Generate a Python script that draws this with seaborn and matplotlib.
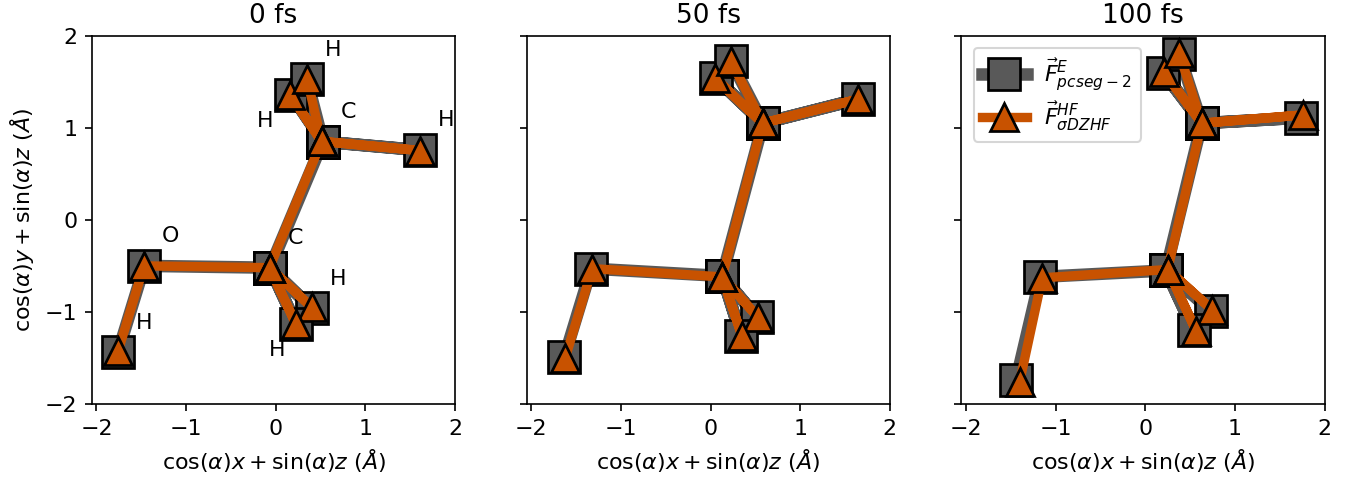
import numpy as np
import pandas as pd
import matplotlib
matplotlib.use("Agg")
import matplotlib.pyplot as plt
import seaborn as sns

titles = ['0 fs', '50 fs', '100 fs']
atoms = ['H1', 'O', 'C1', 'H2', 'H3', 'C2', 'H4', 'H5', 'H6']
# bonds walked as one path, atom index order
path = [0, 1, 2, 3, 2, 4, 2, 5, 6, 5, 7, 5, 8]

# atom coordinates per frame (in Angstrom)
ref_x_0 = [-1.76, -1.465, -0.065, 0.40, 0.225, 0.525, 1.61, 0.17, 0.344]
ref_y_0 = [-1.435, -0.50, -0.52, -0.96, -1.135, 0.85, 0.757, 1.36, 1.535]
hf_x_0 = [-1.76, -1.47, -0.07, 0.40, 0.225, 0.51, 1.61, 0.16, 0.348]
hf_y_0 = [-1.43, -0.50, -0.52, -0.95, -1.135, 0.853, 0.753, 1.36, 1.535]

ref_x_50 = [-1.63, -1.33, 0.13, 0.52, 0.34, 0.586, 1.64, 0.056, 0.225]
ref_y_50 = [-1.49, -0.53, -0.61, -1.06, -1.26, 1.05, 1.31, 1.54, 1.73]
hf_x_50 = [-1.62, -1.32, 0.13, 0.53, 0.35, 0.58, 1.64, 0.05, 0.227]
hf_y_50 = [-1.50, -0.53, -0.62, -1.06, -1.26, 1.05, 1.31, 1.54, 1.73]

ref_x_100 = [-1.44, -1.17, 0.23, 0.73, 0.54, 0.63, 1.74, 0.20, 0.38]
ref_y_100 = [-1.74, -0.62, -0.55, -0.99, -1.20, 1.05, 1.11, 1.60, 1.80]
hf_x_100 = [-1.40, -1.15, 0.25, 0.75, 0.57, 0.63, 1.76, 0.205, 0.38]
hf_y_100 = [-1.76, -0.63, -0.54, -0.98, -1.21, 1.05, 1.14, 1.61, 1.81]

frames = [
    (ref_x_0, ref_y_0, hf_x_0, hf_y_0),
    (ref_x_50, ref_y_50, hf_x_50, hf_y_50),
    (ref_x_100, ref_y_100, hf_x_100, hf_y_100),
]

# element labels on the first panel
label_txt = ['H', 'O', 'C', 'H', 'H', 'C', 'H', 'H', 'H']
label_x = [-1.47, -1.17, 0.22, 0.70, 0.02, 0.81, 1.90, -0.12, 0.64]
label_y = [-1.12, -0.18, -0.20, -0.64, -1.41, 1.17, 1.09, 1.08, 1.85]

grey = '#595959'
orange = '#c85200'
xlab = r'$\cos(\alpha)x + \sin(\alpha)z$ ($\AA$)'
ylab = r'$\cos(\alpha)y + \sin(\alpha)z$ ($\AA$)'

fig, axes = plt.subplots(1, 3, figsize=(9.02, 3.187), dpi=150, sharey=True)

for ax, title, (rx, ry, hx, hy) in zip(axes, titles, frames):
    ref = pd.DataFrame({'x': np.array(rx)[path], 'y': np.array(ry)[path]})
    hf = pd.DataFrame({'x': np.array(hx)[path], 'y': np.array(hy)[path]})
    sns.lineplot(data=ref, x='x', y='y', sort=False, estimator=None, ax=ax, legend=False,
                 color=grey, lw=6, marker='s', ms=15, mec='k', mew=1.3,
                 label=r'$\vec{F}^{E}_{pcseg-2}$')
    sns.lineplot(data=hf, x='x', y='y', sort=False, estimator=None, ax=ax, legend=False,
                 color=orange, lw=4.5, marker='^', ms=13.5, mec='k', mew=1.3,
                 label=r'$\vec{F}^{HF}_{\sigma DZHF}$')
    ax.set_title(title, fontsize=12.7)
    ax.set_xlabel(xlab, fontsize=10.6)
    ax.set_ylabel(ylab, fontsize=10.6)
    ax.set_xlim(-2.05, 2.0)
    ax.set_ylim(-2, 2)
    ax.set_xticks([-2, -1, 0, 1, 2])
    ax.set_yticks([-2, -1, 0, 1, 2])
    ax.tick_params(labelsize=10.6)

for t, x, y in zip(label_txt, label_x, label_y):
    axes[0].text(x, y, t, fontsize=10.6, ha='center', va='center')

axes[2].legend(loc='upper left', fontsize=10.6, borderaxespad=0.55, labelspacing=0.3)

fig.subplots_adjust(left=0.068, right=0.979, top=0.925, bottom=0.155, wspace=0.197)
fig.savefig('out.png', dpi=150)
